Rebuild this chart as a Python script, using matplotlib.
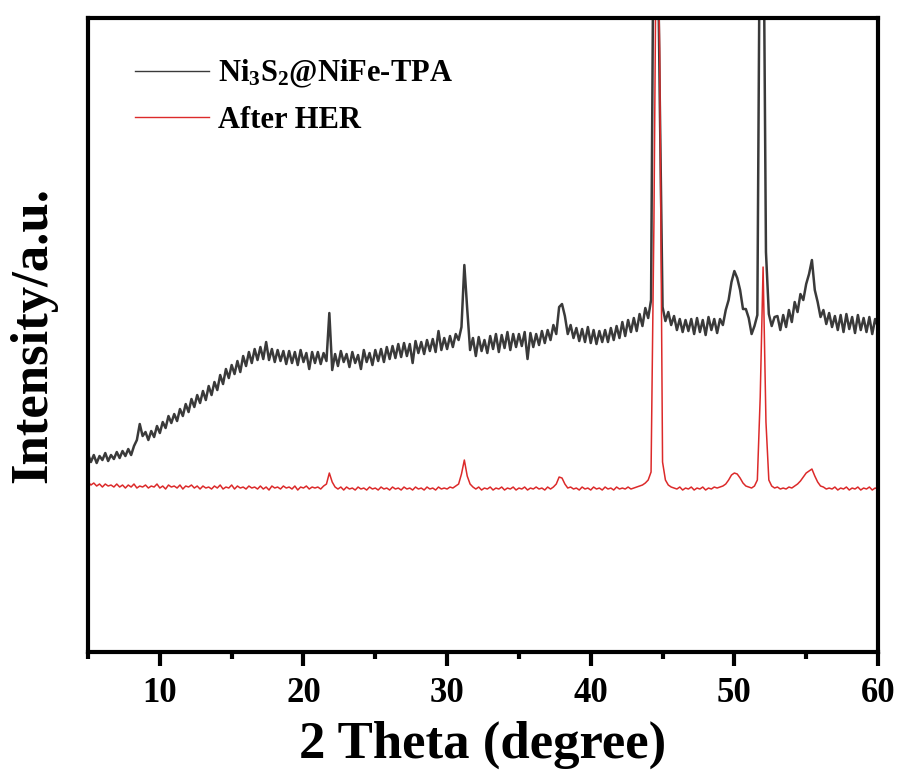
import numpy as np
import matplotlib
matplotlib.use("Agg")
import matplotlib.pyplot as plt
from matplotlib.ticker import MultipleLocator

# 2 theta sampling grid (degree), read every 0.2 deg from 5 to 60
theta_start = 5.0
theta_step = 0.2

# Ni3S2@NiFe-TPA trace (arb. units), one row per 2 degrees
fresh = [
    198, 190, 197, 189, 196, 192, 199, 191, 197, 193,
    200, 194, 201, 196, 203, 197, 206, 212, 228, 216,
    220, 212, 221, 215, 226, 219, 230, 224, 236, 229,
    238, 231, 243, 236, 248, 240, 253, 245, 257, 249,
    261, 252, 266, 257, 270, 262, 277, 268, 283, 274,
    287, 278, 291, 280, 296, 286, 300, 289, 303, 292,
    305, 293, 310, 292, 303, 290, 302, 291, 301, 288,
    301, 289, 300, 287, 302, 290, 299, 283, 300, 289,
    300, 288, 299, 291, 339, 282, 298, 286, 301, 290,
    298, 285, 300, 289, 297, 283, 302, 290, 299, 287,
    302, 291, 303, 290, 305, 293, 306, 294, 308, 295,
    309, 296, 308, 289, 311, 299, 310, 298, 312, 301,
    313, 300, 321, 302, 314, 303, 316, 305, 318, 312,
    325, 387, 343, 302, 314, 296, 315, 301, 312, 299,
    316, 303, 318, 300, 317, 304, 320, 302, 318, 305,
    318, 306, 320, 293, 319, 305, 318, 307, 321, 309,
    322, 312, 327, 318, 345, 348, 336, 318, 327, 314,
    324, 311, 323, 310, 325, 309, 322, 308, 321, 310,
    322, 310, 324, 312, 326, 314, 330, 316, 332, 320,
    334, 321, 338, 326, 344, 334, 352, 800, 800, 560,
    345, 331, 340, 327, 336, 322, 333, 320, 332, 321,
    333, 318, 334, 320, 332, 317, 335, 322, 333, 319,
    333, 327, 342, 352, 370, 381, 374, 362, 343, 343,
    334, 318, 326, 337, 800, 800, 400, 338, 326, 335,
    336, 322, 337, 325, 342, 330, 350, 340, 358, 352,
    368, 378, 392, 362, 350, 335, 342, 328, 339, 325,
    336, 322, 337, 320, 338, 323, 335, 319, 337, 322,
    334, 320, 335, 318, 333, 325,
]

# After HER trace (arb. units)
after_her = [
    170, 167, 169, 166, 168, 165, 168, 166, 167, 165,
    168, 165, 167, 164, 167, 165, 168, 164, 166, 165,
    167, 164, 166, 165, 168, 164, 166, 163, 167, 165,
    166, 164, 167, 163, 166, 165, 167, 164, 166, 163,
    166, 164, 165, 163, 166, 164, 167, 163, 165, 164,
    167, 163, 166, 164, 165, 163, 166, 164, 165, 163,
    166, 163, 165, 162, 166, 164, 165, 163, 166, 164,
    165, 163, 166, 162, 165, 164, 166, 163, 165, 164,
    165, 163, 166, 168, 179, 170, 165, 163, 165, 162,
    165, 163, 164, 162, 165, 163, 164, 162, 165, 163,
    164, 162, 165, 163, 164, 162, 165, 163, 164, 162,
    165, 163, 164, 162, 165, 163, 164, 162, 165, 163,
    164, 162, 165, 163, 164, 163, 165, 164, 166, 168,
    178, 192, 176, 168, 165, 163, 165, 162, 164, 163,
    165, 162, 164, 163, 165, 162, 164, 163, 165, 162,
    164, 163, 165, 162, 164, 163, 165, 163, 164, 162,
    165, 163, 165, 168, 175, 174, 168, 164, 165, 163,
    164, 162, 165, 163, 164, 162, 165, 163, 164, 162,
    165, 163, 164, 162, 165, 163, 164, 163, 165, 163,
    164, 165, 166, 167, 169, 172, 180, 430, 800, 600,
    190, 172, 167, 165, 164, 163, 165, 162, 164, 163,
    165, 162, 164, 163, 165, 162, 164, 163, 165, 164,
    165, 166, 168, 172, 177, 179, 178, 174, 169, 166,
    165, 164, 166, 172, 255, 385, 230, 172, 166, 164,
    165, 163, 164, 163, 165, 164, 166, 168, 171, 175,
    179, 181, 183, 176, 170, 166, 165, 163, 164, 163,
    165, 162, 164, 163, 165, 162, 164, 163, 165, 162,
    164, 163, 165, 162, 164, 163,
]

labels = [r'Ni$_3$S$_2$@NiFe-TPA', 'After HER']
x_ticks = [10, 20, 30, 40, 50, 60]


def plot_xrd():
    plt.rcParams['font.family'] = 'Liberation Serif'
    plt.rcParams['font.weight'] = 'bold'
    plt.rcParams['mathtext.fontset'] = 'custom'
    plt.rcParams['mathtext.rm'] = 'Liberation Serif:bold'
    plt.rcParams['mathtext.default'] = 'rm'

    theta = theta_start + theta_step * np.arange(len(fresh))

    fig = plt.figure(figsize=(9.03, 7.74), dpi=100)
    ax = fig.add_axes([0.0975, 0.1576, 0.8748, 0.8191])

    ax.plot(theta, fresh, color='#3a3a3a', lw=1.8, label=labels[0])
    ax.plot(theta, after_her, color='#dc2a2a', lw=1.1, label=labels[1])

    ax.set_xlim(5, 60)
    ax.set_ylim(0, 634)
    ax.set_xticks(x_ticks)
    ax.xaxis.set_minor_locator(MultipleLocator(5))
    ax.set_yticks([])

    for s in ax.spines.values():
        s.set_linewidth(3)
    ax.tick_params(axis='x', which='major', length=10, width=3,
                   labelsize=25, pad=8)
    ax.tick_params(axis='x', which='minor', length=5, width=3)

    ax.set_xlabel('2 Theta (degree)', fontsize=38, fontweight='bold', labelpad=8)
    ax.set_ylabel('Intensity/a.u.', fontsize=38, fontweight='bold', labelpad=22)

    leg = ax.legend(loc='upper left', bbox_to_anchor=(0.025, 0.98), frameon=False,
                    prop={'family': 'Liberation Serif', 'weight': 'bold', 'size': 22},
                    handlelength=2.4, handletextpad=0.3, labelspacing=0.5)
    for line in leg.get_lines():
        line.set_linewidth(1.0)

    plt.savefig('out.png', dpi=100)


if __name__ == "__main__":
    plot_xrd()
